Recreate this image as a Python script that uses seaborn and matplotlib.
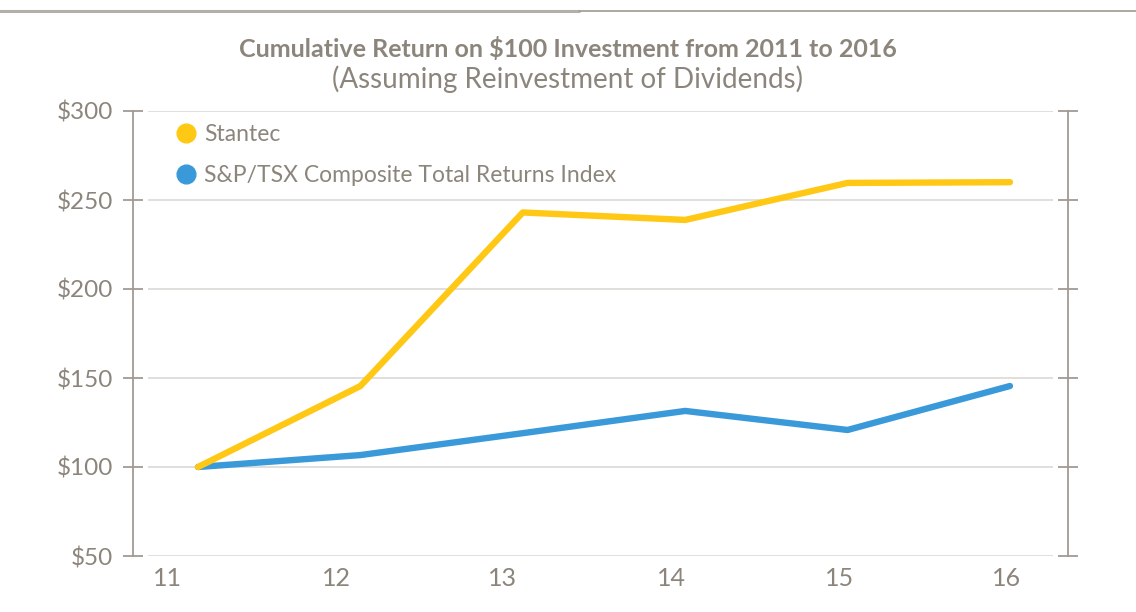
import matplotlib
matplotlib.use("Agg")
import matplotlib.pyplot as plt
import seaborn as sns
import pandas as pd
from matplotlib.lines import Line2D

years = [2011, 2012, 2013, 2014, 2015, 2016]
tick_labels = ["11", "12", "13", "14", "15", "16"]
stantec = [100, 145.5, 243, 238.8, 259.6, 260]
tsx = [100, 106.7, 119, 131.5, 120.8, 145.5]
series_names = ["Stantec", "S&P/TSX Composite Total Returns Index"]
y_ticks = [50, 100, 150, 200, 250, 300]

colors = {"Stantec": "#FFC814", "S&P/TSX Composite Total Returns Index": "#3A9AD9"}
text_color = "#8c857c"
axis_color = "#a39a93"

df = pd.DataFrame({
    "year": years * 2,
    "value": stantec + tsx,
    "series": [series_names[0]] * len(years) + [series_names[1]] * len(years),
})

sns.set_theme(style="white")
plt.rcParams["font.family"] = ["Lato", "DejaVu Sans"]

fig = plt.figure(figsize=(11.36, 6.12), dpi=100)
ax = fig.add_axes([148 / 1136, 1 - 556 / 612, (1053 - 148) / 1136, (556 - 111) / 612])

# spines first (set_position resets tick styling)
for s in ["top", "bottom"]:
    ax.spines[s].set_visible(False)
for s in ["left", "right"]:
    ax.spines[s].set_visible(True)
    ax.spines[s].set_color(axis_color)
    ax.spines[s].set_linewidth(1.3)
    ax.spines[s].set_position(("outward", 11))

for y in y_ticks:
    ax.axhline(y, color="#dcd9d5", lw=1.2, zorder=0)

sns.lineplot(data=df, x="year", y="value", hue="series", hue_order=series_names[::-1],
             palette=colors, lw=4.6, ax=ax, legend=False, solid_capstyle="round")

ax.set_xlim(2010.692, 2016.265)
ax.set_ylim(50, 300)
ax.set_yticks(y_ticks)
ax.set_yticklabels([f"${v}" for v in y_ticks], fontsize=17.5, color=text_color)

# tick label positions (slightly offset from data points as in the reference)
label_pos = [2010.81, 2011.855, 2012.877, 2013.917, 2014.95, 2015.98]
ax.set_xticks(label_pos)
ax.set_xticklabels(tick_labels, fontsize=18, color=text_color)
ax.tick_params(axis="x", length=0, pad=8)
ax.tick_params(axis="y", which="both", left=True, right=True, direction="inout",
               length=14, width=1.3, color=axis_color, pad=7)
ax.set_xlabel("")
ax.set_ylabel("")

handles = [Line2D([], [], marker="o", ls="none", markersize=13.5,
                  markerfacecolor=colors[n], markeredgecolor=colors[n]) for n in series_names]
leg = ax.legend(handles, series_names, loc="upper left", bbox_to_anchor=(0.004, 1.017),
                frameon=False, fontsize=16.5, handletextpad=0.2, labelspacing=0.85,
                handlelength=1.2)
for t in leg.get_texts():
    t.set_color(text_color)

fig.text(0.5, 1 - 49 / 612, "Cumulative Return on $100 Investment from 2011 to 2016",
         ha="center", va="center", fontsize=18, fontweight="bold", color=text_color)
fig.text(0.5, 1 - 79 / 612, "(Assuming Reinvestment of Dividends)",
         ha="center", va="center", fontsize=20, color=text_color)

fig.add_artist(Line2D([0, 0.51], [1 - 11 / 612] * 2, color="#b3b0a8", lw=2.2))
fig.add_artist(Line2D([0.51, 1], [1 - 11 / 612] * 2, color="#a8a098", lw=1.3))

fig.savefig("out.png", dpi=100, facecolor="white")
